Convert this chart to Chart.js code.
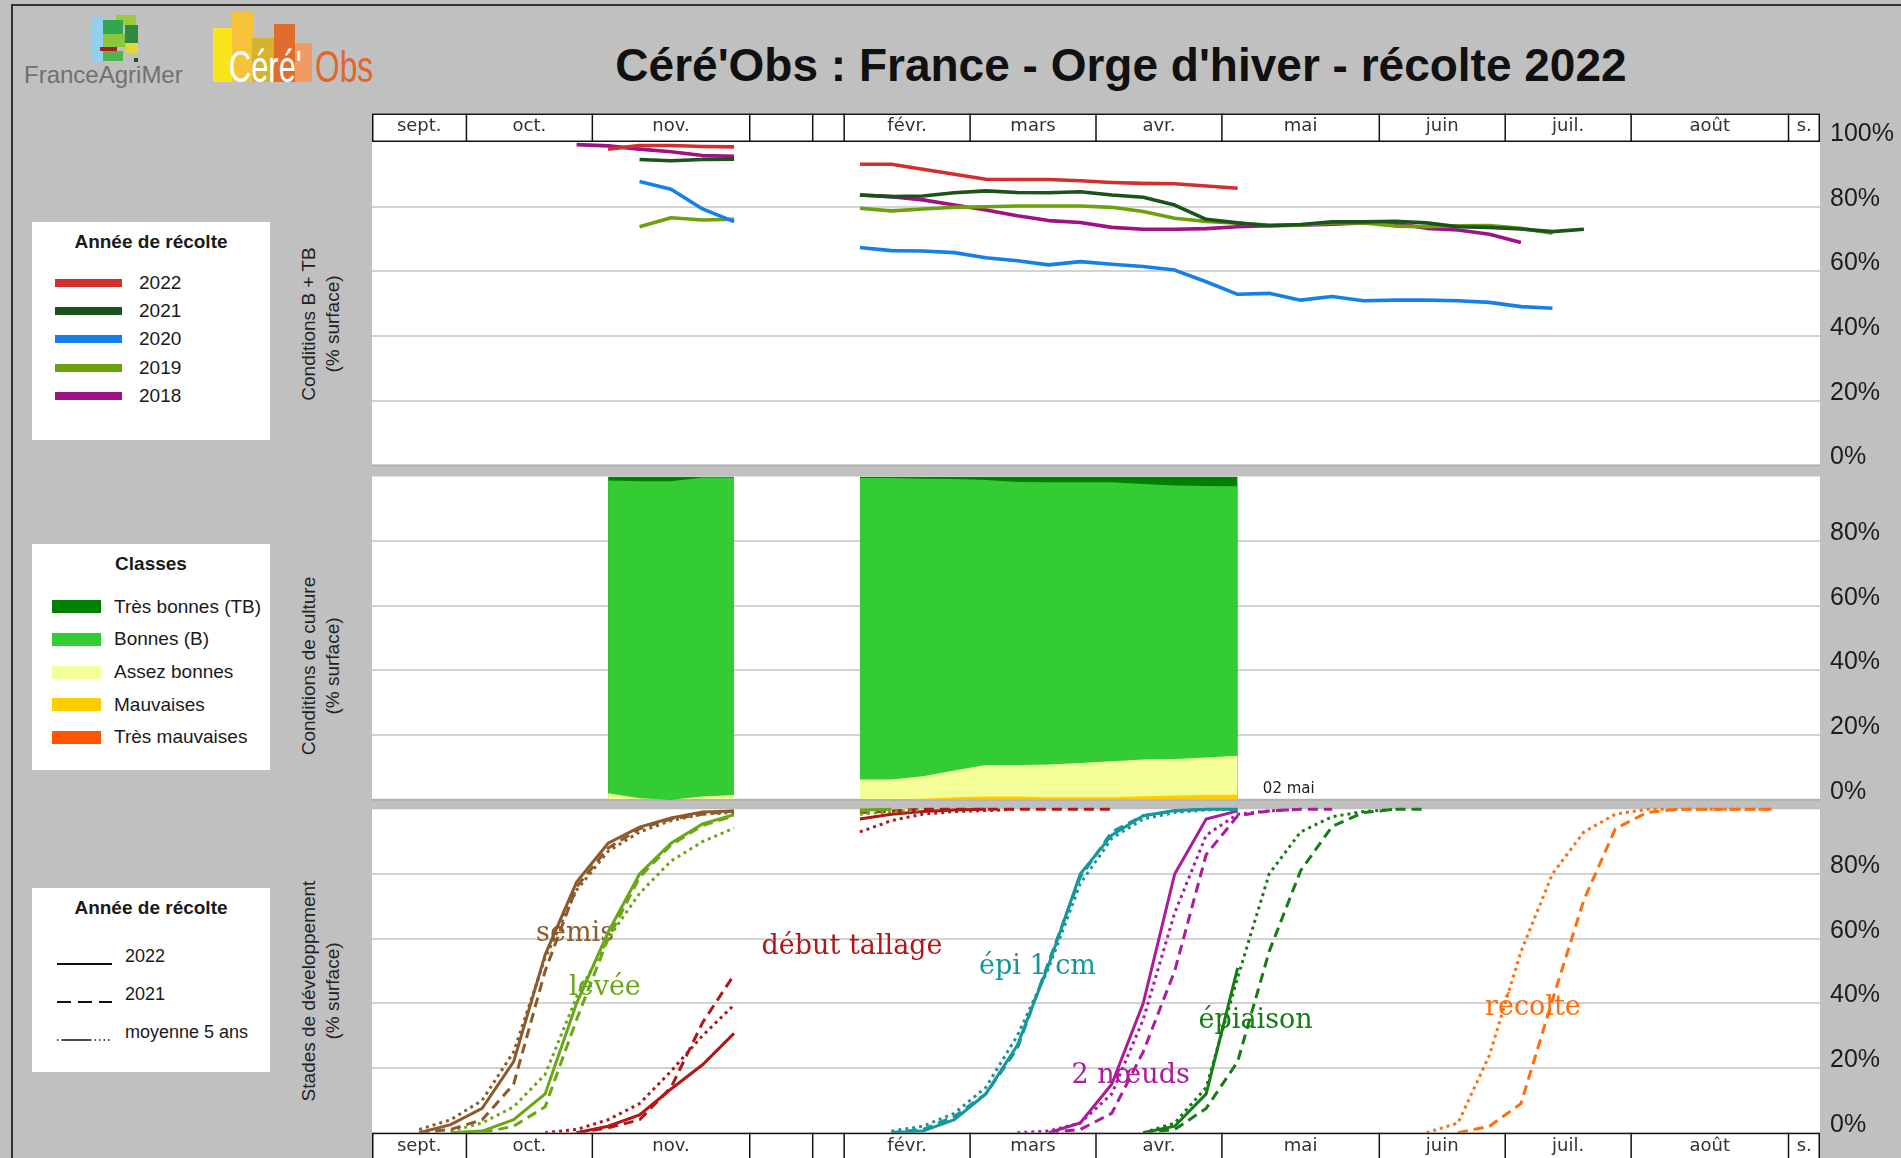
<!DOCTYPE html>
<html lang="fr">
<head>
<meta charset="utf-8">
<title>Céré'Obs : France - Orge d'hiver - récolte 2022</title>
<script src="https://cdn.jsdelivr.net/npm/chart.js@4.4.1/dist/chart.umd.min.js"></script>
<style>
  html, body { margin: 0; padding: 0; }
  body { width: 1901px; height: 1158px; overflow: hidden; position: relative; background: #c0c0c0;
         font-family: "Liberation Sans", Arial, sans-serif; color: #1a1a1a; }
  .frame { position: absolute; left: 11px; top: 4px; width: 1910px; height: 1200px;
           border-left: 2px solid #333; border-top: 2px solid #333; }
  canvas { position: absolute; left: 372px; }
  .abs { position: absolute; }
  .title { position: absolute; left: 521px; width: 1200px; top: 42px; text-align: center; font-weight: bold;
           font-size: 46px; line-height: 46px; white-space: nowrap; color: #111; }
  .axis-title { position: absolute; left: 321px; transform: translate(-50%, -50%) rotate(-90deg);
                text-align: center; font-size: 19px; line-height: 24px; white-space: nowrap; color: #222; }
  .legend { position: absolute; left: 32px; width: 238px; background: #fff; }
  .legend .lt { position: absolute; left: 0; width: 100%; text-align: center; font-weight: bold;
                font-size: 19px; line-height: 22px; margin-top: -11px; }
  .legend .sw { position: absolute; }
  .legend .lb { position: absolute; font-size: 19px; line-height: 22px; margin-top: -11px; white-space: nowrap; }
  .logo-txt { position: absolute; white-space: nowrap; transform-origin: left top; }
</style>
</head>
<body>
<div class="frame"></div>

<!-- FranceAgriMer logo -->
<div class="abs" style="left:91px;top:17px;width:14px;height:45px;background:#8fd1ee"></div>
<div class="abs" style="left:116px;top:15px;width:20px;height:10px;background:#9bcb3b"></div>
<div class="abs" style="left:103px;top:20px;width:20px;height:15px;background:#2fa84f"></div>
<div class="abs" style="left:125px;top:25px;width:13px;height:18px;background:#2e8b3e"></div>
<div class="abs" style="left:103px;top:34px;width:22px;height:13px;background:#8cc63f"></div>
<div class="abs" style="left:126px;top:43px;width:12px;height:10px;background:#e3d83a"></div>
<div class="abs" style="left:100px;top:47px;width:17px;height:4px;background:#a32020"></div>
<div class="abs" style="left:103px;top:51px;width:20px;height:10px;background:#52b34f"></div>
<div class="abs" style="left:134px;top:58px;width:4px;height:4px;background:#2a4a2a"></div>
<div class="logo-txt" style="left:24px;top:63px;font-size:24px;line-height:24px;color:#707070">FranceAgriMer</div>

<!-- Céré'Obs logo -->
<div class="abs" style="left:213px;top:28px;width:24px;height:54px;background:#f9e51c"></div>
<div class="abs" style="left:232px;top:12px;width:22px;height:70px;background:#f5c23a"></div>
<div class="abs" style="left:252px;top:38px;width:23px;height:44px;background:#d6b32e"></div>
<div class="abs" style="left:274px;top:24px;width:21px;height:58px;background:#e06d2b"></div>
<div class="abs" style="left:295px;top:43px;width:17px;height:39px;background:#f29a63"></div>
<div class="abs" style="left:206px;top:83px;width:182px;height:1px;background:#f0b080"></div>
<div class="logo-txt" style="left:229px;top:45px;font-size:44px;line-height:44px;color:#fff;transform:scaleX(0.7)">Céré'</div>
<div class="logo-txt" style="left:315px;top:45px;font-size:44px;line-height:44px;color:#e0672a;transform:scaleX(0.72)">Obs</div>

<div class="title">Céré'Obs : France - Orge d'hiver - récolte 2022</div>

<canvas id="c1" width="1529" height="400" style="top:100px;width:1529px;height:400px"></canvas>
<canvas id="c2" width="1529" height="384" style="top:446px;width:1529px;height:384px"></canvas>
<canvas id="c3" width="1529" height="379" style="top:779px;width:1529px;height:379px"></canvas>

<div class="axis-title" style="top:324px">Conditions B + TB<br>(% surface)</div>
<div class="axis-title" style="top:666px">Conditions de culture<br>(% surface)</div>
<div class="axis-title" style="top:991px">Stades de développement<br>(% surface)</div>

<div id="leg1" class="legend" style="top:222px;height:218px"></div>
<div id="leg2" class="legend" style="top:544px;height:226px"></div>
<div id="leg3" class="legend" style="top:888px;height:184px"></div>

<script>
// ---- axis: weeks of the campaign (dec/jan compressed), month header ----
const weekCount = 46;
const weekCenters = Array.from({ length: weekCount }, (v, i) => i + 0.5);
const monthNames = ['sept.', 'oct.', 'nov.', '', '', 'févr.', 'mars', 'avr.', 'mai', 'juin', 'juil.', 'août', 's.'];
const monthWeeks = [3, 4, 5, 2, 1, 4, 4, 4, 5, 4, 4, 5, 1];
const yTicks = [0, 20, 40, 60, 80, 100];
const _ = null;

// values placed from a given week index, empty elsewhere
function fromWeek(start, values) {
  const arr = new Array(weekCount).fill(null);
  values.forEach((v, i) => { arr[start + i] = v; });
  return arr;
}

// ---- panel 1 : conditions B + TB (% surface) by harvest year ----
const yearNames = ['2022', '2021', '2020', '2019', '2018'];
const yearColors = ['#d32f2f', '#1a531b', '#1580e8', '#6da10c', '#9e1283'];
const bt2022 = fromWeek(7, [97.8, 98.9, 98.9, 98.6, 98.5, _, _, _, 93.1, 93.1, 91.6, 90.0, 88.5, 88.4, 88.4, 88.0, 87.5, 87.2, 87.1, 86.4, 85.7]);
const bt2021 = fromWeek(8, [94.6, 94.2, 94.6, 94.7, _, _, _, 83.6, 83.1, 83.3, 84.3, 84.9, 84.4, 84.3, 84.6, 83.6, 82.9, 80.5, 76.1, 75.0, 74.1, 74.5, 75.3, 75.3, 75.5, 75.0, 73.8, 73.6, 73.1, 72.3, 73.0]);
const bt2020 = fromWeek(8, [87.8, 85.4, 79.3, 75.4, _, _, _, 67.4, 66.4, 66.3, 65.8, 64.2, 63.3, 62.0, 63.0, 62.2, 61.5, 60.4, 56.8, 52.9, 53.2, 51.1, 52.2, 50.9, 51.1, 51.1, 50.9, 50.4, 49.1, 48.6]);
const bt2019 = fromWeek(8, [73.8, 76.6, 75.9, 76.1, _, _, _, 79.5, 78.7, 79.3, 79.8, 80.0, 80.2, 80.2, 80.2, 79.8, 78.5, 76.4, 75.4, 74.9, 74.3, 74.3, 75.0, 75.0, 74.0, 73.8, 74.1, 74.2, 73.3, 71.8]);
const bt2018 = fromWeek(6, [99.2, 98.8, 97.8, 97.0, 95.8, 95.6, _, _, _, 83.6, 83.1, 82.1, 80.5, 79.0, 77.2, 75.7, 75.1, 73.6, 73.0, 73.0, 73.2, 73.8, 74.1, 74.3, 74.6, 75.0, 74.9, 73.3, 72.8, 71.5, 68.9]);
const btSeries = [bt2022, bt2021, bt2020, bt2019, bt2018];

// ---- panel 2 : crop condition classes 2022 (% surface) ----
const classNames = ['Très bonnes (TB)', 'Bonnes (B)', 'Assez bonnes', 'Mauvaises', 'Très mauvaises'];
const classColors = ['#008000', '#33cc33', '#f5ff99', '#ffcc00', '#ff5500'];
const condTB = fromWeek(7, [1.2, 1.5, 1.5, 0.3, 0.3, _, _, _, 0.5, 0.5, 0.7, 0.8, 1.1, 1.7, 1.8, 1.8, 1.8, 2.3, 2.8, 2.9, 3.0]);
const condB  = fromWeek(7, [96.8, 98.0, 98.5, 98.7, 98.2, _, _, _, 93.2, 93.2, 92.0, 90.1, 88.1, 87.5, 87.3, 86.8, 86.3, 85.2, 84.6, 84.0, 83.4]);
const condAB = fromWeek(7, [2.0, 0.5, 0, 1.0, 1.5, _, _, _, 6.3, 6.3, 7.0, 8.3, 9.8, 9.8, 10.1, 10.6, 11.1, 11.4, 11.3, 11.5, 12.0]);
const condM  = fromWeek(7, [0, 0, 0, 0, 0, _, _, _, 0, 0, 0.3, 0.8, 1.0, 1.0, 0.8, 0.8, 0.8, 1.1, 1.3, 1.6, 1.6]);
const condTM = fromWeek(7, [0, 0, 0, 0, 0, _, _, _, 0, 0, 0, 0, 0, 0, 0, 0, 0, 0, 0, 0, 0]);
const condSeries = [condTB, condB, condAB, condM, condTM];
const lastDateLabel = '02 mai';

// ---- panel 3 : development stages (% surface) ----
const stageNames = ['semis', 'levée', 'début tallage', 'épi 1 cm', '2 nœuds', 'épiaison', 'récolte'];
const stageColors = ['#8c5a2c', '#6aa616', '#b01818', '#16979b', '#ad1a9c', '#147d14', '#ff6d0d'];
const semis2022 = fromWeek(1, [0, 2.5, 7.5, 22, 55, 77.5, 89.5, 94.5, 97.3, 99.2, 99.5]);
const semis2021 = fromWeek(1, [0, 1, 4, 15, 50, 76, 88, 94, 97, 98.5, 99.5]);
const semisMoy  = fromWeek(1, [1, 4, 10, 25, 54, 75, 87, 93, 96.5, 98.5, 99]);
const levee2022 = fromWeek(2, [0, 0.5, 4, 12, 40, 62, 80, 89.5, 95.5, 98.3, _, _, _, 99.8, 100]);
const levee2021 = fromWeek(2, [0, 0, 2, 8, 35, 60, 79, 89, 95, 98, _, _, _, 99.5, 100]);
const leveeMoy  = fromWeek(2, [0.5, 3, 8, 18, 42, 60, 74, 84, 90, 94.2, _, _, _, 98.5, 99.3, 99.8]);
const tallage2022 = fromWeek(6, [0, 2, 5.5, 13.5, 21, 30.7, _, _, _, 97, 98.5, 99.3, 99.8, 100]);
const tallage2021 = fromWeek(6, [0, 1.5, 4, 14, 34, 48.8, _, _, _, 99, 99.5, 100, 100, 100, 100, 100, 100, 100]);
const tallageMoy  = fromWeek(5, [0, 1, 4, 9, 19, 30, 39.5, _, _, _, 93, 96.5, 98.5, 99.3, 99.6, 100]);
const epi2022 = fromWeek(16, [0, 0.5, 4, 12, 27, 52, 80, 92, 98, 99.6, 100, 100]);
const epi2021 = fromWeek(16, [0, 1, 5, 12, 26, 53, 79, 93, 98, 99.5, 100]);
const epiMoy  = fromWeek(16, [0.5, 2, 6, 14, 30, 51, 77, 91, 97, 99, 99.8, 100]);
const noeuds2022 = fromWeek(21, [0, 3, 15, 40, 80, 97, 99.5]);
const noeuds2021 = fromWeek(21, [0, 1, 6, 25, 50, 86, 98, 99.5, 100, 100]);
const noeudsMoy  = fromWeek(20, [0, 0.5, 3, 12, 35, 68, 92, 98.5, 99.5, 100]);
const epiaison2022 = fromWeek(24, [0, 2, 12, 51]);
const epiaison2021 = fromWeek(24, [0, 1, 7.5, 22, 56, 81, 94.7, 99, 100, 100]);
const epiaisonMoy  = fromWeek(24, [0, 3, 14, 48, 80, 93, 97.7, 99.3, 100]);
const recolte2021 = fromWeek(34, [0, 2, 9, 41, 72, 94, 99, 100, 100, 100, 100]);
const recolteMoy  = fromWeek(33, [0, 3, 24, 56, 80, 93, 98.5, 100, 100, 100, 100, 100]);
const stage2022 = [semis2022, levee2022, tallage2022, epi2022, noeuds2022, epiaison2022, null];
const stage2021 = [semis2021, levee2021, tallage2021, epi2021, noeuds2021, epiaison2021, recolte2021];
const stageMoy  = [semisMoy, leveeMoy, tallageMoy, epiMoy, noeudsMoy, epiaisonMoy, recolteMoy];
const lineKinds = ['2022', '2021', 'moyenne 5 ans'];

// where the stage names sit (week, %)
const stageLabelAt = [[6.45, 61.4], [7.4, 44.7], [15.25, 57.4], [21.14, 51.2], [24.1, 17.5], [28.07, 34.5], [36.88, 38.6]];

function points(arr) {
  return weekCenters.map((x, i) => ({ x: x, y: arr[i] }));
}

// white panel, month header and text marks
function panelPlugin(cfg) {
  return {
    id: 'panel',
    beforeDraw(chart) {
      const { ctx, chartArea: a } = chart;
      ctx.save();
      ctx.fillStyle = '#fff';
      ctx.fillRect(a.left, a.top, a.right - a.left, a.bottom - a.top);
      if (cfg.shadow) {
        ctx.fillStyle = '#b0b0b0';
        ctx.fillRect(a.left, a.bottom - 1, a.right - a.left, 2);
      }
      ctx.restore();
    },
    beforeDatasetsDraw(chart) {
      const { ctx, scales: { x, y } } = chart;
      ctx.save();
      (cfg.marks || []).forEach(m => {
        ctx.font = m.font;
        ctx.fillStyle = m.color;
        ctx.textAlign = m.align || 'center';
        ctx.textBaseline = 'middle';
        ctx.fillText(m.text, x.getPixelForValue(m.x), y.getPixelForValue(m.y));
      });
      ctx.restore();
    },
    afterDraw(chart) {
      if (!cfg.header) return;
      const { ctx, chartArea: a, scales: { x } } = chart;
      const h = 28.5;
      const top = cfg.header === 'top' ? a.top - h : a.bottom;
      ctx.save();
      ctx.fillStyle = '#fff';
      ctx.fillRect(a.left, top, a.right - a.left, h);
      ctx.strokeStyle = '#111';
      ctx.lineWidth = 1.5;
      ctx.strokeRect(a.left + 0.75, top + 0.75, a.right - a.left - 1.5, h - 1.5);
      ctx.font = '18px "DejaVu Sans"';
      ctx.fillStyle = '#333';
      ctx.textAlign = 'center';
      ctx.textBaseline = 'middle';
      let w = 0;
      monthWeeks.forEach((n, i) => {
        const x0 = x.getPixelForValue(w), x1 = x.getPixelForValue(w + n);
        if (i > 0) {
          ctx.beginPath();
          ctx.moveTo(x0, top);
          ctx.lineTo(x0, top + h);
          ctx.stroke();
        }
        ctx.fillText(monthNames[i], (x0 + x1) / 2, top + h / 2 - 1);
        w += n;
      });
      ctx.restore();
    }
  };
}

function makeChart(id, datasets, cfg) {
  return new Chart(document.getElementById(id), {
    type: 'line',
    data: { datasets: datasets },
    options: {
      responsive: false,
      animation: false,
      devicePixelRatio: 1,
      events: [],
      layout: { padding: cfg.padding },
      plugins: { legend: { display: false }, tooltip: { enabled: false } },
      elements: { point: { radius: 0 }, line: { tension: 0 } },
      scales: {
        x: { type: 'linear', min: 0, max: weekCount, display: false },
        y: {
          position: 'right', min: 0, max: 100,
          afterBuildTicks: s => { s.ticks = yTicks.map(v => ({ value: v })); },
          border: { display: false },
          grid: {
            drawTicks: false, lineWidth: 2,
            color: c => (c.tick && c.tick.value > 0 && c.tick.value < 100) ? '#d3d3d3' : 'rgba(0,0,0,0)'
          },
          ticks: {
            padding: 10, labelOffset: -8, color: '#1c1c1c',
            font: { family: "'Liberation Sans', sans-serif", size: 25 },
            callback: v => (v === 100 && !cfg.top100) ? '' : v + '%'
          },
          afterFit: s => { s.width = 81; }
        }
      }
    },
    plugins: [panelPlugin(cfg)]
  });
}

// panel 1
makeChart('c1', btSeries.map((s, i) => ({
  data: points(s), borderColor: yearColors[i], borderWidth: 3.6, fill: false,
  borderJoinStyle: 'round'
})), { padding: { top: 42, bottom: 34.6, left: 0, right: 0 }, header: 'top', top100: true, shadow: true });

// panel 2 : stacked areas (running sums from the bottom class upwards)
const bottomUp = [4, 3, 2, 1, 0];
const running = new Array(weekCount).fill(0);
const stackedSets = bottomUp.map(ci => {
  const cum = condSeries[ci].map((v, i) => {
    if (v === null) return null;
    running[i] += v;
    return running[i];
  });
  return { data: points(cum), borderWidth: 0, backgroundColor: classColors[ci], fill: 'origin', pointRadius: 0 };
});
const lastIdx = condTB.reduce((acc, v, i) => v !== null ? i : acc, 0);
makeChart('c2', stackedSets, {
  padding: { top: 30.5, bottom: 30.2, left: 0, right: 0 }, shadow: true,
  marks: [{ text: lastDateLabel, x: weekCenters[lastIdx] + 0.8, y: 3.3, font: '15px "DejaVu Sans"', color: '#222', align: 'left' }]
});

// panel 3
const dashes = [[], [10, 6], [3, 4]];
const stageSets = [];
stageNames.forEach((name, si) => {
  [stage2022[si], stage2021[si], stageMoy[si]].forEach((s, k) => {
    if (!s) return;
    stageSets.push({
      data: points(s), borderColor: stageColors[si], borderWidth: 3, borderDash: dashes[k],
      fill: false, clip: { left: 0, top: 3, right: 0, bottom: 0 }
    });
  });
});
makeChart('c3', stageSets, {
  padding: { top: 30.3, bottom: 25.3, left: 0, right: 0 }, header: 'bottom',
  marks: stageNames.map((n, i) => ({ text: n, x: stageLabelAt[i][0], y: stageLabelAt[i][1], font: '27px "DejaVu Serif"', color: stageColors[i] }))
});

// ---- HTML legends ----
function addEl(parent, cls, style, html) {
  const d = document.createElement('div');
  d.className = cls;
  Object.assign(d.style, style);
  if (html !== undefined) d.innerHTML = html;
  parent.appendChild(d);
  return d;
}
const leg1 = document.getElementById('leg1');
addEl(leg1, 'lt', { top: '20px' }, 'Année de récolte');
yearNames.forEach((n, i) => {
  const y = 60.7 + i * 28.3;
  addEl(leg1, 'sw', { left: '23px', top: (y - 4) + 'px', width: '67px', height: '8px', background: yearColors[i] });
  addEl(leg1, 'lb', { left: '107px', top: y + 'px' }, n);
});
const leg2 = document.getElementById('leg2');
addEl(leg2, 'lt', { top: '20px' }, 'Classes');
classNames.forEach((n, i) => {
  const y = 62.7 + i * 32.65;
  addEl(leg2, 'sw', { left: '20px', top: (y - 6.5) + 'px', width: '49px', height: '13px', background: classColors[i] });
  addEl(leg2, 'lb', { left: '82px', top: y + 'px' }, n);
});
const leg3 = document.getElementById('leg3');
addEl(leg3, 'lt', { top: '20px' }, 'Année de récolte');
const sampleDash = ['', '14 7', '1.5 3 30 3 1.5 3 1.5 3 1.5 3'];
lineKinds.forEach((n, i) => {
  const y = 68 + i * 37.8;
  addEl(leg3, 'sw', { left: '25px', top: (y - 3) + 'px', width: '56px', height: '6px' },
    '<svg width="56" height="6"><line x1="0" y1="3" x2="55" y2="3" stroke="#111" stroke-width="' + (i === 2 ? 1.6 : 2) +
    '" stroke-dasharray="' + sampleDash[i] + '"/></svg>');
  addEl(leg3, 'lb', { left: '93px', top: y + 'px', fontSize: '18px' }, n);
});
</script>
</body>
</html>
